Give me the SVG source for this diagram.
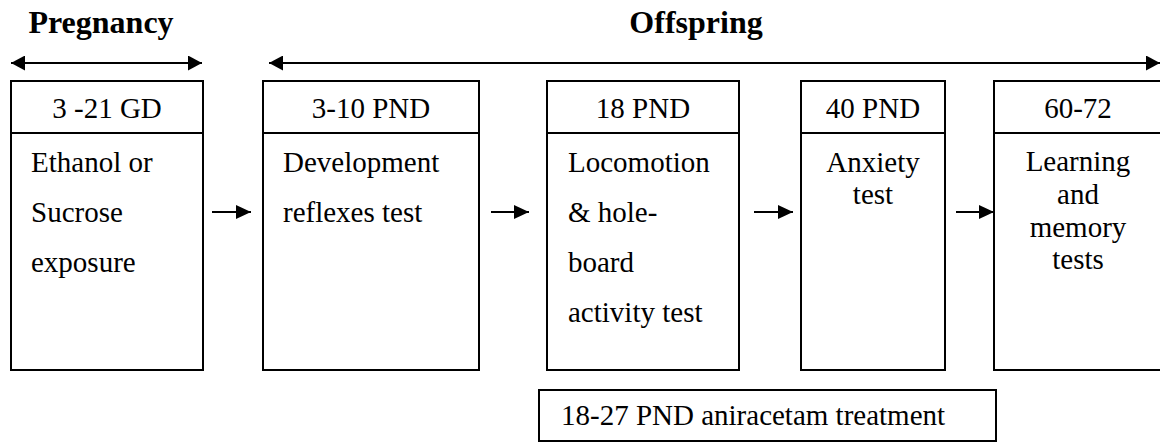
<svg xmlns="http://www.w3.org/2000/svg" width="1160" height="443" viewBox="0 0 1160 443">
<style>
.box{fill:#fff;stroke:#000;stroke-width:2}
.ln{stroke:#000;stroke-width:2;fill:none}
text{font-family:"Liberation Serif","Times New Roman",serif;fill:#000}
.t{font-size:29px}
.c{text-anchor:middle}
.h{font-size:32px;font-weight:bold;text-anchor:middle}
</style>
<defs>
<marker id="ah" markerUnits="userSpaceOnUse" markerWidth="15" markerHeight="15" refX="14" refY="7.5" orient="auto-start-reverse">
<path d="M0,0 L14,7.5 L0,15 z" fill="#000"/>
</marker>
<marker id="as" markerUnits="userSpaceOnUse" markerWidth="15" markerHeight="14" refX="15" refY="7" orient="auto">
<path d="M0,0 L15,7 L0,14 z" fill="#000"/>
</marker>
</defs>
<g id="title-pregnancy">
<text class="h" x="101" y="33">Pregnancy</text>
</g>
<g id="title-offspring">
<text class="h" x="696" y="33">Offspring</text>
</g>
<g id="box1">
<rect class="box" x="11" y="81" width="192" height="289"/>
<line class="ln" x1="11" y1="133" x2="203" y2="133"/>
<text class="t c" x="107" y="118">3 -21 GD</text>
<text class="t" x="31" y="172">Ethanol or</text>
<text class="t" x="31" y="222">Sucrose</text>
<text class="t" x="31" y="272">exposure</text>
</g>
<g id="box2">
<rect class="box" x="263" y="81" width="216" height="289"/>
<line class="ln" x1="263" y1="133" x2="479" y2="133"/>
<text class="t c" x="371" y="118">3-10 PND</text>
<text class="t" x="283" y="172">Development</text>
<text class="t" x="283" y="222">reflexes test</text>
</g>
<g id="box3">
<rect class="box" x="547" y="81" width="192" height="289"/>
<line class="ln" x1="547" y1="133" x2="739" y2="133"/>
<text class="t c" x="643" y="118">18 PND</text>
<text class="t" x="568" y="172">Locomotion</text>
<text class="t" x="568" y="222">&amp; hole-</text>
<text class="t" x="568" y="272">board</text>
<text class="t" x="568" y="322">activity test</text>
</g>
<g id="box4">
<rect class="box" x="801" y="81" width="144" height="289"/>
<line class="ln" x1="801" y1="133" x2="945" y2="133"/>
<text class="t c" x="873" y="118">40 PND</text>
<text class="t c" x="873" y="172">Anxiety</text>
<text class="t c" x="873" y="204">test</text>
</g>
<g id="box5">
<rect class="box" x="994" y="81" width="170" height="289"/>
<line class="ln" x1="994" y1="133" x2="1164" y2="133"/>
<text class="t c" x="1078" y="118">60-72</text>
<text class="t c" x="1078" y="171">Learning</text>
<text class="t c" x="1078" y="204">and</text>
<text class="t c" x="1078" y="237">memory</text>
<text class="t c" x="1078" y="269">tests</text>
</g>
<g id="box-treatment">
<rect class="box" x="539" y="390" width="457" height="51"/>
<text class="t" x="561" y="425">18-27 PND aniracetam treatment</text>
</g>
<g id="connectors">
<line class="ln" x1="11" y1="63" x2="202" y2="63" marker-start="url(#ah)" marker-end="url(#ah)"/>
<line class="ln" x1="269" y1="63" x2="1160" y2="63" marker-start="url(#ah)" marker-end="url(#ah)"/>
<line class="ln" x1="212" y1="212" x2="251" y2="212" marker-end="url(#as)"/>
<line class="ln" x1="491" y1="212" x2="529" y2="212" marker-end="url(#as)"/>
<line class="ln" x1="754" y1="212" x2="793" y2="212" marker-end="url(#as)"/>
<line class="ln" x1="956" y1="212" x2="994" y2="212" marker-end="url(#as)"/>
</g>
</svg>
